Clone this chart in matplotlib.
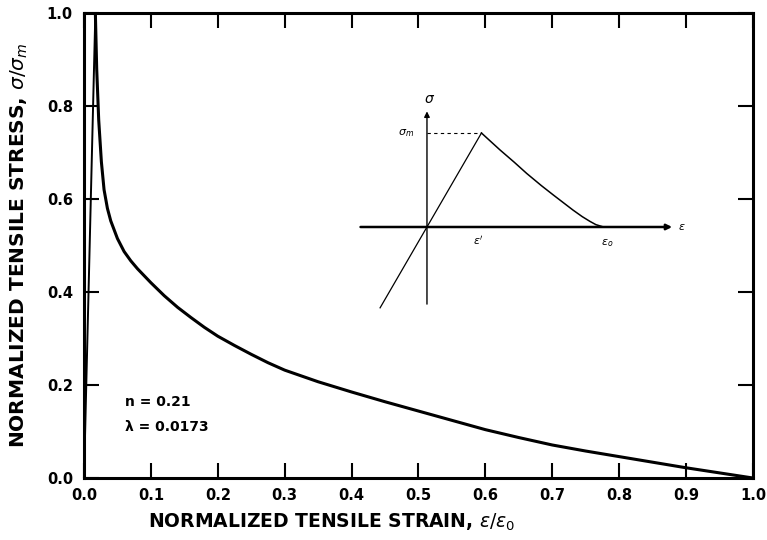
import matplotlib.pyplot as plt

# main curve: normalized strain vs normalized stress
strain = [0, 0.017, 0.019, 0.022, 0.026, 0.03, 0.035, 0.04, 0.05, 0.06,
          0.07, 0.08, 0.09, 0.1, 0.12, 0.14, 0.16, 0.18, 0.2, 0.225, 0.25,
          0.275, 0.3, 0.35, 0.4, 0.45, 0.5, 0.55, 0.6, 0.65, 0.7, 0.75,
          0.8, 0.85, 0.9, 0.95, 1.0]
stress = [0, 1.0, 0.88, 0.77, 0.68, 0.62, 0.58, 0.553, 0.515, 0.487,
          0.467, 0.45, 0.435, 0.42, 0.392, 0.367, 0.345, 0.324, 0.305, 0.285, 0.266,
          0.248, 0.232, 0.207, 0.185, 0.164, 0.144, 0.124, 0.104, 0.087, 0.071, 0.058,
          0.046, 0.034, 0.022, 0.011, 0.0]

# schematic inset, in units of eps* and sigma_m
sk_rise_x = [-0.86, 1.0]
sk_rise_y = [-0.86, 1.0]
sk_soft_x = [1.0, 1.34, 1.6, 1.83, 2.1, 2.32, 2.5, 2.68, 2.85, 2.99, 3.1, 3.24]
sk_soft_y = [1.0, 0.82, 0.69, 0.57, 0.44, 0.34, 0.26, 0.18, 0.11, 0.06, 0.025, 0.0]

x_ticks = [0.0, 0.1, 0.2, 0.3, 0.4, 0.5, 0.6, 0.7, 0.8, 0.9, 1.0]
y_ticks = [0.0, 0.2, 0.4, 0.6, 0.8, 1.0]

plt.rcParams['font.family'] = 'DejaVu Sans'

fig = plt.figure(figsize=(7.67, 5.4), dpi=100)
ax = fig.add_axes([0.1095, 0.1148, 0.8722, 0.8611])

ax.plot(strain[:2], stress[:2], color='black', lw=1.4)
ax.plot(strain[1:], stress[1:], color='black', lw=2.2, solid_joinstyle='round')

ax.set_xlim(0, 1)
ax.set_ylim(0, 1)
ax.set_xticks(x_ticks)
ax.set_yticks(y_ticks)
ax.set_xticklabels(['%.1f' % t for t in x_ticks], fontweight='bold', fontsize=10.5)
ax.set_yticklabels(['%.1f' % t for t in y_ticks], fontweight='bold', fontsize=10.5)
ax.tick_params(direction='in', length=11, width=1.5, top=True, right=True)
ax.tick_params(axis='x', pad=7)
ax.tick_params(axis='y', pad=8)
for s in ax.spines.values():
    s.set_linewidth(2.2)

ax.text(0.061, 0.163, 'n = 0.21', fontsize=10, fontweight='bold', va='center')
ax.text(0.061, 0.110, 'λ = 0.0173', fontsize=10, fontweight='bold', va='center')

fig.text(332 / 767, 1 - 522 / 540, r'NORMALIZED TENSILE STRAIN, $\epsilon/\epsilon_0$',
         fontsize=13.5, fontweight='bold', ha='center', va='center')
fig.text(19 / 767, 1 - 245 / 540, r'NORMALIZED TENSILE STRESS, $\sigma/\sigma_m$',
         fontsize=14.5, fontweight='bold', ha='center', va='center', rotation=90)

# inset sketch
ins = fig.add_axes([0.4572, 0.423, 0.4405, 0.409])
ins.set_xlim(-1.4, 4.8)
ins.set_ylim(-0.9, 1.45)
ins.axis('off')
ins.patch.set_alpha(0)

ins.annotate('', xy=(4.55, 0), xytext=(-1.27, 0),
             arrowprops=dict(arrowstyle='-|>', color='black', lw=1.8, mutation_scale=8))
ins.annotate('', xy=(0, 1.26), xytext=(0, -0.85),
             arrowprops=dict(arrowstyle='-|>', color='black', lw=1.0, mutation_scale=8))
ins.plot(sk_rise_x, sk_rise_y, color='black', lw=0.9)
ins.plot(sk_soft_x, sk_soft_y, color='black', lw=1.1, solid_joinstyle='round')
ins.plot([0, 1.0], [1.0, 1.0], color='black', lw=0.8, ls=(0, (3, 3)))

ins.text(0.05, 1.36, r'$\sigma$', fontsize=10, ha='center', va='center')
ins.text(-0.38, 1.0, r'$\sigma_m$', fontsize=8, ha='center', va='center')
ins.text(0.94, -0.14, r"$\epsilon'$", fontsize=8, ha='center', va='center')
ins.text(3.3, -0.17, r'$\epsilon_o$', fontsize=8, ha='center', va='center')
ins.text(4.68, 0.0, r'$\epsilon$', fontsize=8, ha='center', va='center')

fig.savefig('out.png', dpi=100)
